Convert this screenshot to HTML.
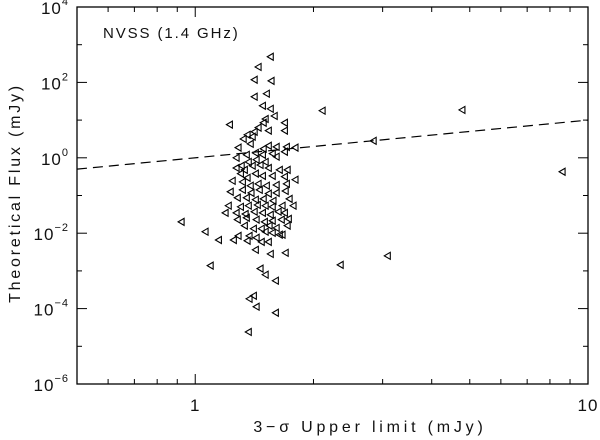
<!DOCTYPE html>
<html><head><meta charset="utf-8"><style>
html,body{margin:0;padding:0;background:#fff;}
svg{display:block;font-family:"Liberation Sans",sans-serif;}
</style></head><body>
<svg id="chart" width="600" height="440" viewBox="0 0 600 440">
<rect x="0" y="0" width="600" height="440" fill="#fff"/>
<g id="marks"></g>
<g id="axes"></g>
<text x="103" y="38" font-size="15" letter-spacing="1.9" fill="#111">NVSS (1.4 GHz)</text>
<text x="370" y="432" font-size="16" letter-spacing="3.8" text-anchor="middle" fill="#111">3−σ Upper limit (mJy)</text>
<text transform="translate(20,193) rotate(-90)" font-size="16" letter-spacing="2.8" text-anchor="middle" fill="#111">Theoretical Flux (mJy)</text>
</svg>
<script>
// log10 of 3-sigma upper limit (mJy)
const logLimit = [.191,.160,.150,.193,.150,.181,.171,.191,.201,.178,.173,.227,.227,.087,.160,.150,.132,.145,.122,.186,
.140,.109,.173,.186,.206,.232,.254,.104,.130,.153,.171,.196,.117,.135,.155,.178,.206,.227,.104,.125,
.145,.165,.186,.214,.234,.115,.132,.153,.171,.196,.227,.254,.094,.120,.140,.160,.181,.206,.232,.120,
.142,.163,.186,.206,.229,.089,.107,.130,.153,.173,.198,.239,.084,.115,.135,.158,.178,.196,.221,.249,
.076,.104,.127,.150,.171,.191,.211,.227,.237,.107,.130,.155,.176,.196,.219,.125,.148,.168,.188,.206,
.234,.109,.137,.155,.178,.196,.214,.059,.132,.168,.186,.221,-.036,.025,.038,.097,.153,.191,.229,.165,
.178,.204,.148,.137,.155,.204,.135,.323,.453,.679,.934,.369,.489];
// log10 of theoretical flux (mJy)
const logFlux = [2.68,2.41,2.07,2.04,1.62,1.70,1.38,1.30,1.11,1.03,.93,.93,.72,.88,.80,.69,.61,.56,.50,.72,
.37,.27,.24,.32,.29,.29,.27,0,.08,.13,.08,.11,-.21,-.11,-.05,-.11,.03,.16,-.27,-.32,
-.21,-.19,-.27,-.32,-.32,-.42,-.53,-.42,-.48,-.48,-.50,-.58,-.61,-.64,-.74,-.69,-.74,-.72,-.69,-.85,
-.93,-.85,-.95,-.93,-.88,-.90,-1.06,-1.06,-1.11,-1.09,-1.14,-1.09,-1.27,-1.30,-1.27,-1.25,-1.27,-1.30,-1.27,-1.27,
-1.46,-1.46,-1.49,-1.43,-1.46,-1.51,-1.43,-1.46,-1.62,-1.64,-1.59,-1.64,-1.70,-1.67,-1.64,-1.80,-1.88,-1.88,-1.80,-1.86,
-1.80,-2.07,-2.07,-2.12,-1.96,-1.99,-2.04,-2.18,-2.20,-2.23,-2.23,-2.04,-1.70,-1.96,-2.86,-2.18,-2.44,-2.55,-2.52,-2.94,
-3.10,-3.26,-3.66,-3.74,-3.95,-4.11,-4.62,1.25,.45,1.27,-.37,-2.84,-2.60];
const yTickExps = [4,2,0,-2,-4,-6];
const xTickLabels = ["1","10"];
const xTickValues = [1,10];
const xRange = [0.5,10];
const yRange = [-6,4];

const L=77,R=588,T=7,B=384;
const NS="http://www.w3.org/2000/svg";
const xs=lv=>L+(lv-Math.log10(xRange[0]))/(Math.log10(xRange[1])-Math.log10(xRange[0]))*(R-L);
const ys=lv=>B-(lv-yRange[0])/(yRange[1]-yRange[0])*(B-T);
function mk(tag,attrs,parent){const e=document.createElementNS(NS,tag);for(const k in attrs)e.setAttribute(k,attrs[k]);parent.appendChild(e);return e;}
const axes=document.getElementById('axes');
const marks=document.getElementById('marks');
const frame=mk('rect',{x:L,y:T,width:R-L,height:B-T,fill:'none',stroke:'#000','stroke-width':1.3},axes);


for(let e=yRange[0];e<=yRange[1];e++){
  const y=ys(e);const len=(e%2===0)?10:5;
  const t1=mk('line',{x1:L,y1:y,x2:L+len,y2:y,stroke:'#000','stroke-width':1},axes);
  
  
  const t2=mk('line',{x1:R,y1:y,x2:R-len,y2:y,stroke:'#000','stroke-width':1},axes);
  
  
}
yTickExps.forEach(e=>{
  const t=mk('text',{x:69,y:ys(e)+7,'font-size':17,'text-anchor':'end',fill:'#111','letter-spacing':1},axes);
  
  
  t.textContent='10';
  const s=mk('tspan',{dy:-9,'font-size':11},t);
  s.textContent=(e<0?'−':'')+Math.abs(e);
});
const xt=[0.5,0.6,0.7,0.8,0.9,1,2,3,4,5,6,7,8,9,10];
xt.forEach(v=>{
  const x=xs(Math.log10(v));const len=(v===1||v===10)?10:5;
  const a=mk('line',{x1:x,y1:B,x2:x,y2:B-len,stroke:'#000','stroke-width':1},axes);
  
  
  const b=mk('line',{x1:x,y1:T,x2:x,y2:T+len,stroke:'#000','stroke-width':1},axes);
  
  
});
xTickValues.forEach((v,i)=>{
  const t=mk('text',{x:xs(Math.log10(v)),y:411,'font-size':17,'text-anchor':'middle',fill:'#111','letter-spacing':1},axes);
  
  
  t.textContent=xTickLabels[i];
});
const dl=mk('line',{x1:xs(Math.log10(xRange[0])),y1:ys(Math.log10(xRange[0])),x2:xs(Math.log10(xRange[1])),y2:ys(Math.log10(xRange[1])),stroke:'#000','stroke-width':1.2,'stroke-dasharray':'10 6'},marks);


logLimit.forEach((lx,i)=>{
  const x=xs(lx),y=ys(logFlux[i]);
  const p=mk('path',{d:`M${x-3},${y} L${x+3},${y-3.5} L${x+3},${y+3.5} Z`,fill:'none',stroke:'#000','stroke-width':1.1},marks);
  
  
});
</script>
</body></html>
